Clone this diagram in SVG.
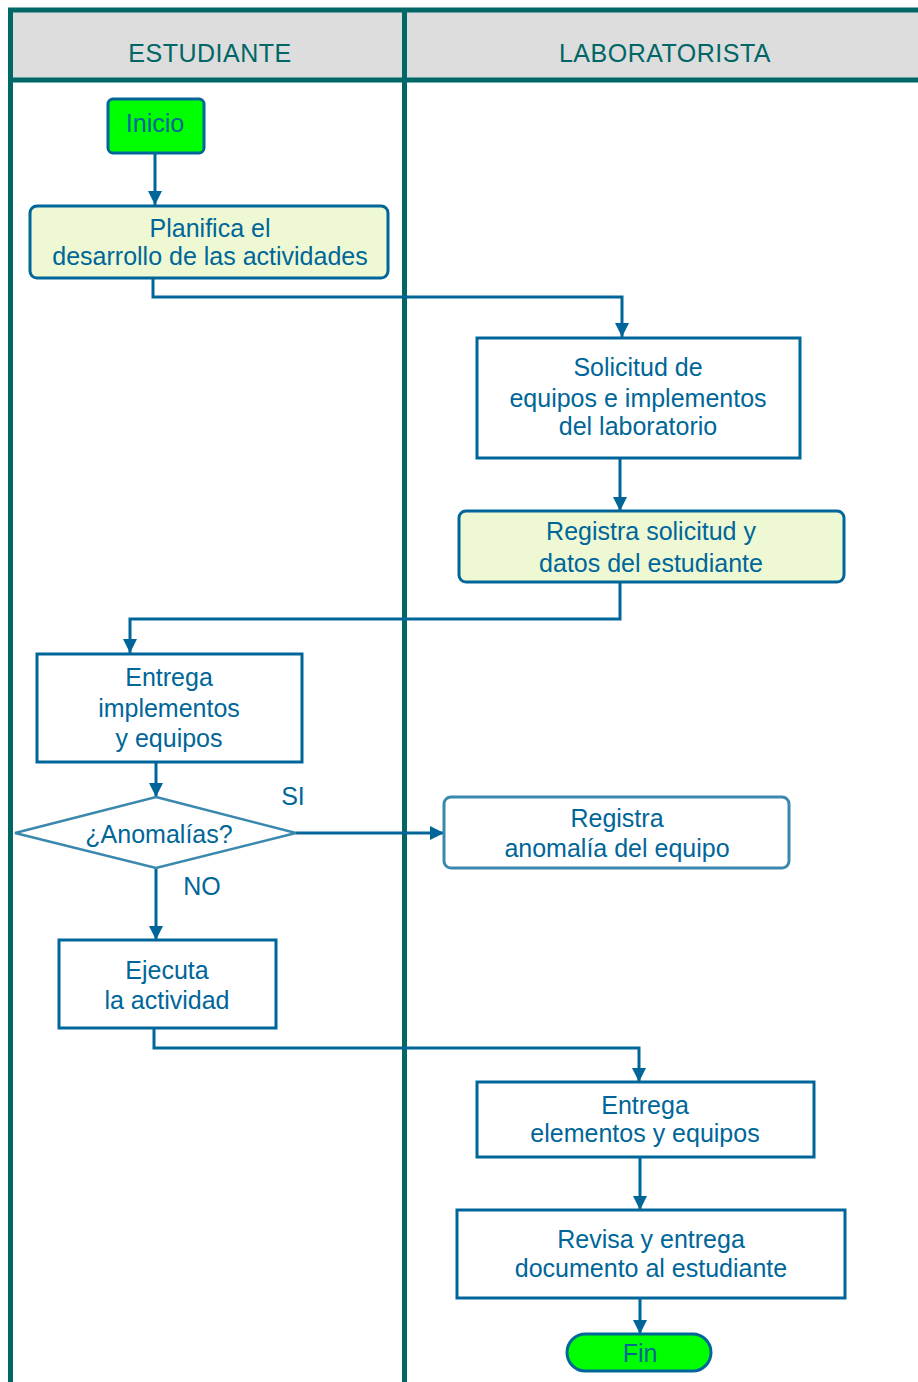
<svg xmlns="http://www.w3.org/2000/svg" width="918" height="1382" viewBox="0 0 918 1382">
  <style>
    .lane { stroke: #006666; stroke-width: 5; fill: none; }
    .hdr { fill: #006666; font-family: "Liberation Sans", Arial, sans-serif; font-size: 25px; text-anchor: middle; letter-spacing: 0.5px; }
    .box { fill: #ffffff; stroke: #006699; stroke-width: 3; }
    .act { fill: #eef9d4; stroke: #006699; stroke-width: 3; }
    .soft { fill: #ffffff; stroke: #3a88ae; stroke-width: 3; }
    .term { fill: #00ff00; stroke: #006699; stroke-width: 3; }
    .lbl { fill: #006699; font-family: "Liberation Sans", Arial, sans-serif; font-size: 25px; text-anchor: middle; }
    .edge { stroke: #006699; stroke-width: 3; fill: none; }
  </style>
  <defs>
    <marker id="arrow" viewBox="0 0 14 14" refX="14" refY="7" markerWidth="14" markerHeight="14" markerUnits="userSpaceOnUse" orient="auto">
      <path d="M0,0 L14,7 L0,14 Z" fill="#006699"/>
    </marker>
  </defs>

  <rect width="918" height="1382" fill="#ffffff"/>

  <!-- swimlane frame -->
  <g id="lanes">
    <rect x="10" y="10" width="908" height="70" fill="#dddddd"/>
    <line class="lane" x1="8" y1="10" x2="918" y2="10"/>
    <line class="lane" x1="8" y1="80" x2="918" y2="80"/>
    <line class="lane" x1="10.5" y1="8" x2="10.5" y2="1382"/>
    <line class="lane" x1="404.5" y1="8" x2="404.5" y2="1382"/>
    <text class="hdr" x="210" y="62">ESTUDIANTE</text>
    <text class="hdr" x="665" y="62">LABORATORISTA</text>
  </g>

  <!-- connectors -->
  <g id="connectors">
    <path class="edge" d="M155,153 V205" marker-end="url(#arrow)"/>
    <path class="edge" d="M153,278 V297 H622 V337" marker-end="url(#arrow)"/>
    <path class="edge" d="M620,458 V511" marker-end="url(#arrow)"/>
    <path class="edge" d="M620,582 V619 H130 V653" marker-end="url(#arrow)"/>
    <path class="edge" d="M156,762 V797" marker-end="url(#arrow)"/>
    <path class="edge" d="M296,833 H444" marker-end="url(#arrow)"/>
    <path class="edge" d="M156,868 V940" marker-end="url(#arrow)"/>
    <path class="edge" d="M154,1028 V1048 H639 V1082" marker-end="url(#arrow)"/>
    <path class="edge" d="M640,1157 V1210" marker-end="url(#arrow)"/>
    <path class="edge" d="M640,1298 V1334" marker-end="url(#arrow)"/>
    <text class="lbl" x="293" y="805">SI</text>
    <text class="lbl" x="202" y="895">NO</text>
  </g>

  <g id="inicio">
    <rect class="term" x="108" y="99" width="96" height="54" rx="5"/>
    <text class="lbl" x="155" y="132">Inicio</text>
  </g>

  <g id="planifica">
    <rect class="act" x="30" y="206" width="358" height="72" rx="7"/>
    <text class="lbl" x="210" y="237">Planifica el</text>
    <text class="lbl" x="210" y="265">desarrollo de las actividades</text>
  </g>

  <g id="solicitud">
    <rect class="box" x="477" y="338" width="323" height="120"/>
    <text class="lbl" x="638" y="376">Solicitud de</text>
    <text class="lbl" x="638" y="407">equipos e implementos</text>
    <text class="lbl" x="638" y="435">del laboratorio</text>
  </g>

  <g id="registra-solicitud">
    <rect class="act" x="459" y="511" width="385" height="71" rx="7"/>
    <text class="lbl" x="651" y="540">Registra solicitud y</text>
    <text class="lbl" x="651" y="572">datos del estudiante</text>
  </g>

  <g id="entrega-implementos">
    <rect class="box" x="37" y="654" width="265" height="108"/>
    <text class="lbl" x="169" y="686">Entrega</text>
    <text class="lbl" x="169" y="717">implementos</text>
    <text class="lbl" x="169" y="747">y equipos</text>
  </g>

  <g id="anomalias">
    <polygon points="156,797 296,833 156,868 15,833" fill="#ffffff" stroke="#3a88ae" stroke-width="2.5"/>
    <text class="lbl" x="159" y="843">¿Anomalías?</text>
  </g>

  <g id="registra-anomalia">
    <rect class="soft" x="444" y="797" width="345" height="71" rx="7"/>
    <text class="lbl" x="617" y="827">Registra</text>
    <text class="lbl" x="617" y="857">anomalía del equipo</text>
  </g>

  <g id="ejecuta">
    <rect class="box" x="59" y="940" width="217" height="88"/>
    <text class="lbl" x="167" y="979">Ejecuta</text>
    <text class="lbl" x="167" y="1009">la actividad</text>
  </g>

  <g id="entrega-elementos">
    <rect class="box" x="477" y="1082" width="337" height="75"/>
    <text class="lbl" x="645" y="1114">Entrega</text>
    <text class="lbl" x="645" y="1142">elementos y equipos</text>
  </g>

  <g id="revisa">
    <rect class="box" x="457" y="1210" width="388" height="88"/>
    <text class="lbl" x="651" y="1248">Revisa y entrega</text>
    <text class="lbl" x="651" y="1277">documento al estudiante</text>
  </g>

  <g id="fin">
    <rect class="term" x="567" y="1334" width="144" height="37" rx="18.5"/>
    <text class="lbl" x="640" y="1362">Fin</text>
  </g>
</svg>
